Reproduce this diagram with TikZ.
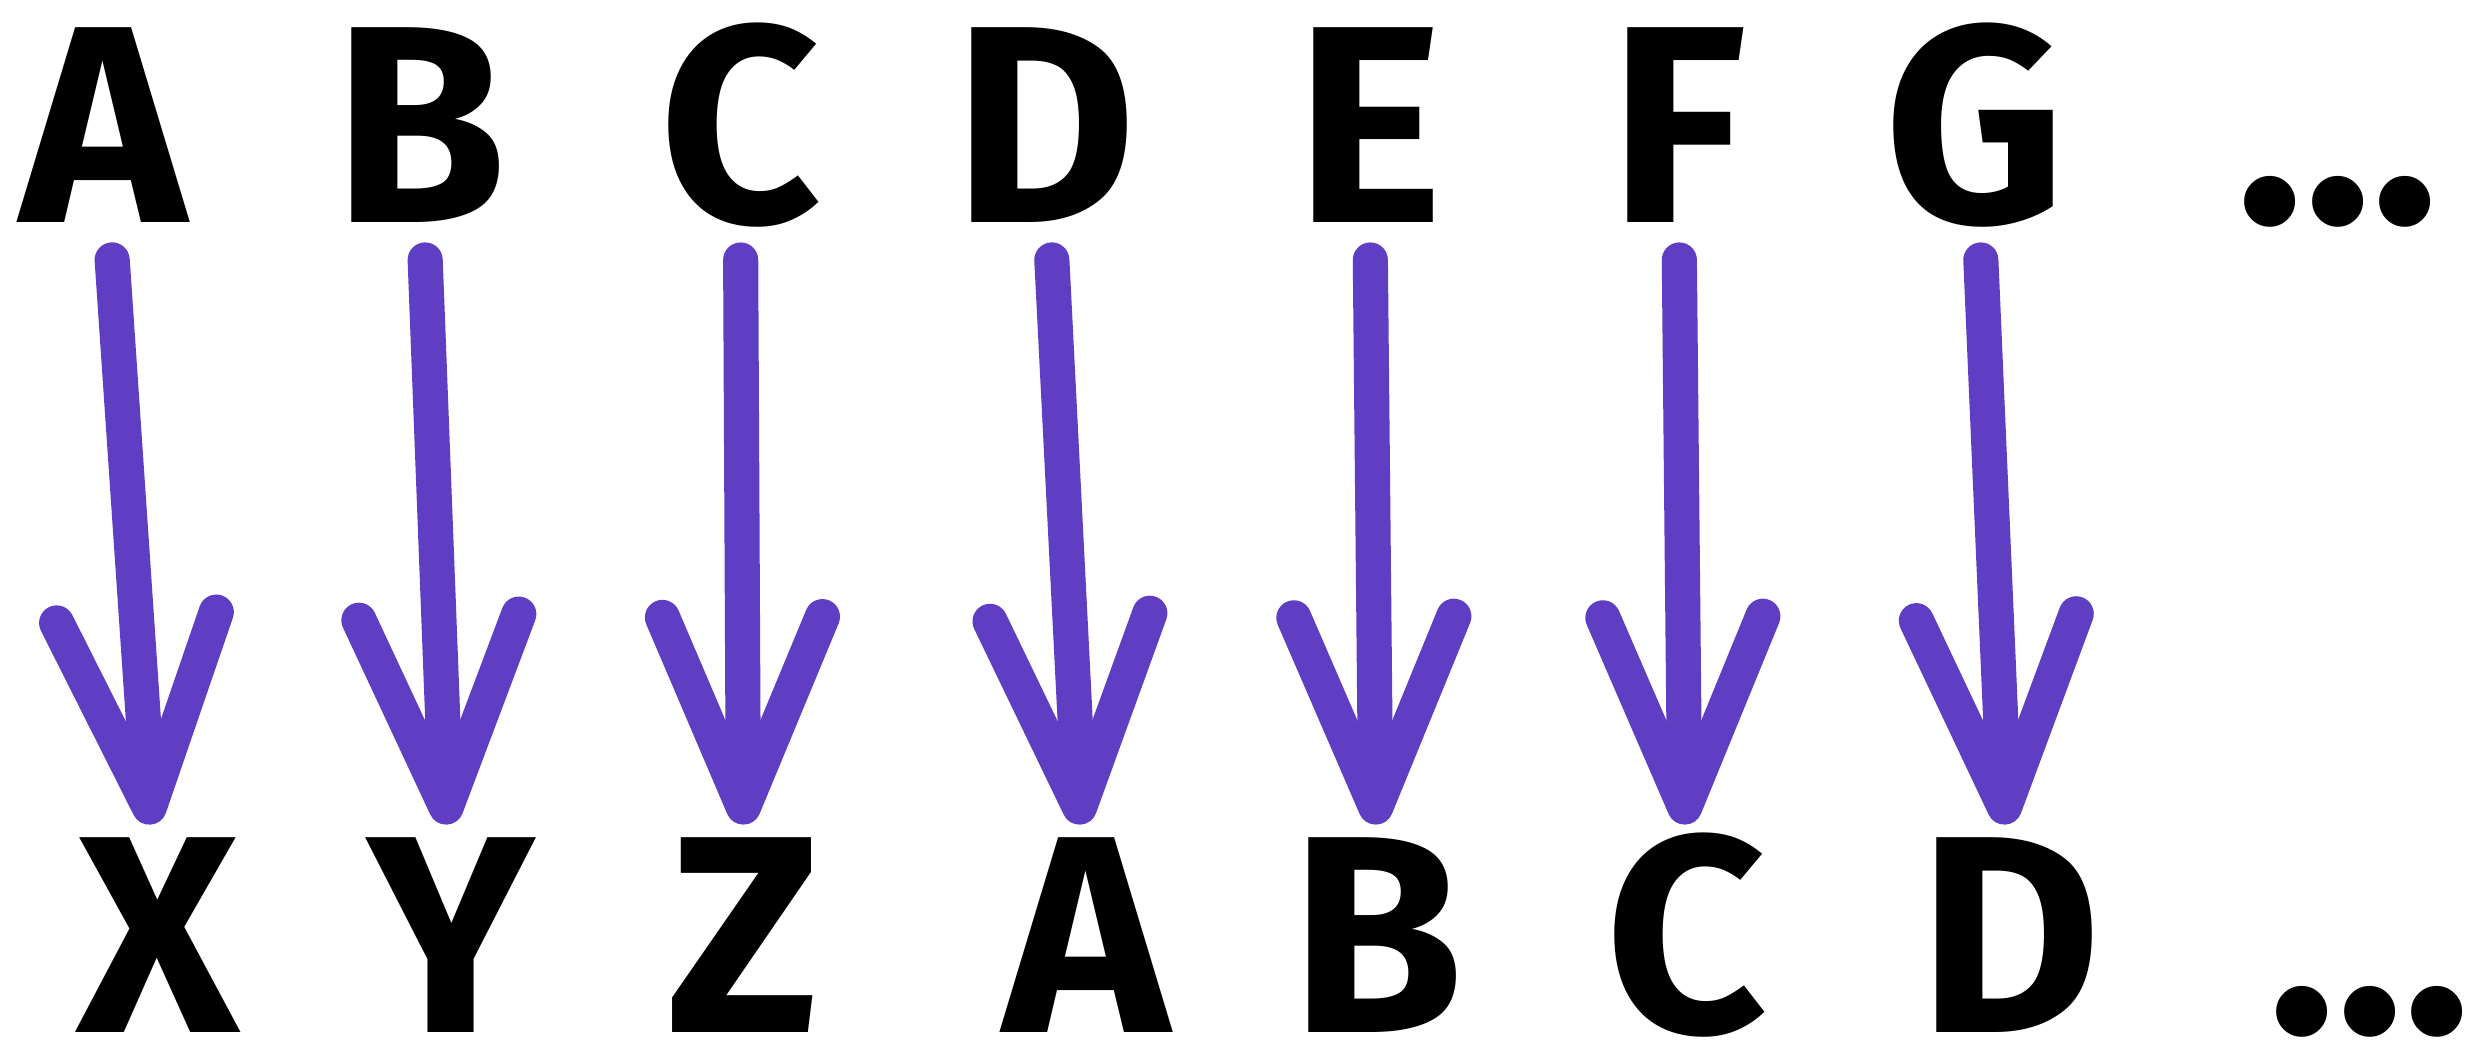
\documentclass[tikz,border=0pt]{standalone}
\usepackage{fontspec}
\setmainfont{Fira Sans}
\usetikzlibrary{arrows.meta}

\definecolor{cipher}{HTML}{5F3EC4}
\definecolor{ink}{HTML}{000000}

\begin{document}
\begin{tikzpicture}[font=\fontsize{80}{90}\selectfont\bfseries, every node/.style={text=ink}]
  \useasboundingbox (0,0) rectangle (24.82,10.59);
  \tikzset{glyph/.style={inner sep=0pt, text height=1.95cm, text depth=0pt, anchor=south}}

  % Plain alphabet along the top row.
  \node[glyph] (pA) at (1.03,8.36) {A};
  \node[glyph] (pB) at (4.20,8.36) {B};
  \node[glyph] (pC) at (7.40,8.36) {C};
  \node[glyph] (pD) at (10.45,8.36) {D};
  \node[glyph] (pE) at (13.69,8.36) {E};
  \node[glyph] (pF) at (16.78,8.36) {F};
  \node[glyph] (pG) at (19.75,8.36) {G};
  \node[glyph] (pmore) at (23.38,8.36) {...};

  % Shifted alphabet along the bottom row.
  \node[glyph] (cX) at (1.58,0.26) {X};
  \node[glyph] (cY) at (4.51,0.26) {Y};
  \node[glyph] (cZ) at (7.44,0.26) {Z};
  \node[glyph] (cA) at (10.86,0.26) {A};
  \node[glyph] (cB) at (13.77,0.26) {B};
  \node[glyph] (cC) at (16.86,0.26) {C};
  \node[glyph] (cD) at (20.10,0.26) {D};
  \node[glyph] (cmore) at (23.70,0.26) {...};

  % Every plain letter points down to the letter three places before it.
  \tikzset{map/.style={cipher, line width=10pt, line cap=round, shorten <=0.37cm, shorten >=0.12cm,
      -{Straight Barb[length=1.9cm,width=1.6cm,round]}}}
  \draw[map] (pA) -- (cX);
  \draw[map] (pB) -- (cY);
  \draw[map] (pC) -- (cZ);
  \draw[map] (pD) -- (cA);
  \draw[map] (pE) -- (cB);
  \draw[map] (pF) -- (cC);
  \draw[map] (pG) -- (cD);
\end{tikzpicture}
\end{document}
